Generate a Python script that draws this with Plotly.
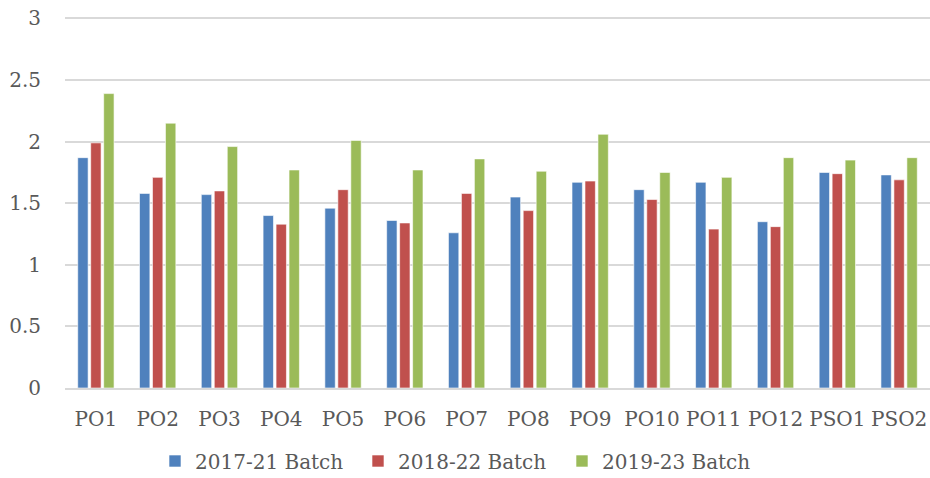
import plotly.graph_objects as go

categories = ["PO1", "PO2", "PO3", "PO4", "PO5", "PO6", "PO7", "PO8", "PO9",
              "PO10", "PO11", "PO12", "PSO1", "PSO2"]
batch_2017_21 = [1.87, 1.58, 1.57, 1.40, 1.46, 1.36, 1.26, 1.55, 1.67, 1.61, 1.67, 1.35, 1.75, 1.73]
batch_2018_22 = [1.99, 1.71, 1.60, 1.33, 1.61, 1.34, 1.58, 1.44, 1.68, 1.53, 1.29, 1.31, 1.74, 1.69]
batch_2019_23 = [2.39, 2.15, 1.96, 1.77, 2.01, 1.77, 1.86, 1.76, 2.06, 1.75, 1.71, 1.87, 1.85, 1.87]
series_names = ["2017-21 Batch", "2018-22 Batch", "2019-23 Batch"]
y_ticks = [0, 0.5, 1, 1.5, 2, 2.5, 3]
y_tick_labels = ["0", "0.5", "1", "1.5", "2", "2.5", "3"]

colors = ["#4F81BD", "#C0504D", "#9BBB59"]
font_family = "DejaVu Serif"
text_color = "#595959"
legend_ids = ["legend", "legend2", "legend3"]
legend_x = [155 / 930, 358 / 930, 562 / 930]

fig = go.Figure()
for name, vals, col, lid in zip(series_names, [batch_2017_21, batch_2018_22, batch_2019_23], colors, legend_ids):
    fig.add_trace(go.Bar(
        x=categories, y=vals, name=name, legend=lid,
        marker=dict(color=col, line=dict(color="rgba(255,255,255,0.6)", width=1)),
    ))

legend_common = dict(orientation="h", xref="container", yref="container",
                     xanchor="left", yanchor="middle", y=1 - 461 / 478,
                     font=dict(family=font_family, size=20, color=text_color),
                     itemwidth=30, bgcolor="rgba(0,0,0,0)", borderwidth=0)

fig.update_layout(
    width=930, height=478,
    margin=dict(l=65, r=0, t=16, b=90, autoexpand=False),
    paper_bgcolor="white", plot_bgcolor="white",
    barmode="group", bargap=0.37, bargroupgap=0.2,
    font=dict(family=font_family, size=20, color=text_color),
    showlegend=True,
    legend=dict(x=legend_x[0], **legend_common),
    legend2=dict(x=legend_x[1], **legend_common),
    legend3=dict(x=legend_x[2], **legend_common),
)
fig.update_xaxes(
    automargin=False,
    showgrid=False, showline=True, linecolor="#d9d9d9", linewidth=2,
    ticks="", ticklabelstandoff=12,
    tickfont=dict(family=font_family, size=20, color=text_color),
)
fig.update_yaxes(
    automargin=False,
    range=[0, 3.02], tickvals=y_ticks, ticktext=y_tick_labels,
    showgrid=True, gridcolor="#d9d9d9", gridwidth=2,
    zeroline=False, showline=False, ticks="", ticklabelstandoff=23,
    tickfont=dict(family=font_family, size=20, color=text_color),
)

fig.write_html("out.html", config={"displayModeBar": False},
               post_script="document.body.style.margin='0';document.body.style.overflow='hidden';")
